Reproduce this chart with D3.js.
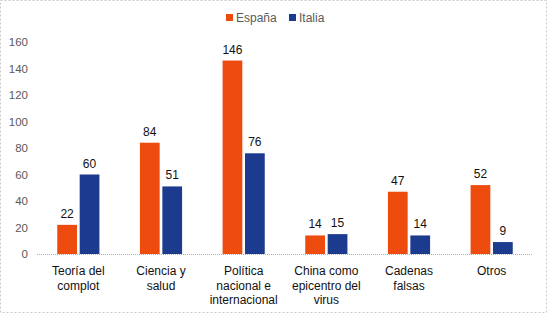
<!DOCTYPE html>
<html>
<head>
<meta charset="utf-8">
<script src="https://cdn.jsdelivr.net/npm/d3@7"></script>
<style>
  body { margin: 0; background: #fff; }
  svg { display: block; font-family: "Liberation Sans", Arial, sans-serif; }
</style>
</head>
<body>
<div id="chart"></div>
<script>
// datos
const categorias = [
  ["Teoría del", "complot"],
  ["Ciencia y", "salud"],
  ["Política", "nacional e", "internacional"],
  ["China como", "epicentro del", "virus"],
  ["Cadenas", "falsas"],
  ["Otros"]
];
const series = ["España", "Italia"];
const espana = [22, 84, 146, 14, 47, 52];
const italia = [60, 51, 76, 15, 14, 9];
const yTicks = [0, 20, 40, 60, 80, 100, 120, 140, 160];
const colores = ["#EE4B0E", "#1C3A8E"];

const W = 547, H = 313;
const margin = { top: 42, right: 14, bottom: 59, left: 37 };
const width = W - margin.left - margin.right;
const height = H - margin.top - margin.bottom;

const svg = d3.select("#chart").append("svg")
  .attr("width", W)
  .attr("height", H);

// borde punteado
svg.append("rect")
  .attr("x", 0.5).attr("y", 0.5)
  .attr("width", W - 1).attr("height", H - 1)
  .attr("fill", "none")
  .attr("stroke", "#c8c8c8")
  .attr("stroke-dasharray", "2,2");

const g = svg.append("g").attr("transform", `translate(${margin.left},${margin.top})`);

const idx = d3.range(categorias.length);
const x = d3.scaleBand().domain(idx).range([0, width]).paddingInner(0.49).paddingOuter(0.245);
const x1 = d3.scaleBand().domain(series).range([0, x.bandwidth()]).paddingInner(0.12);
const y = d3.scaleLinear().domain([0, 160]).range([height, 0]);

// eje y (solo etiquetas)
g.append("g")
  .call(d3.axisLeft(y).tickValues(yTicks).tickSize(0).tickPadding(9))
  .call(a => a.select(".domain").remove())
  .selectAll("text")
  .style("font-size", "11.5px")
  .attr("fill", "#595959")
  .style("font-family", "'Liberation Sans', Arial, sans-serif");

// linea base punteada
g.append("line")
  .attr("x1", 0).attr("x2", width)
  .attr("y1", y(0) + 0.5).attr("y2", y(0) + 0.5)
  .attr("stroke", "#b0b0b0")
  .attr("stroke-dasharray", "1,1");

// barras
const datos = idx.map(i => ({ i, vals: [espana[i], italia[i]] }));
const grupos = g.selectAll(".grupo").data(datos).enter().append("g")
  .attr("transform", d => `translate(${x(d.i)},0)`);

grupos.selectAll("rect")
  .data(d => d.vals.map((v, k) => ({ s: series[k], v, k })))
  .enter().append("rect")
  .attr("x", d => x1(d.s))
  .attr("y", d => y(d.v))
  .attr("width", x1.bandwidth())
  .attr("height", d => y(0) - y(d.v))
  .attr("fill", d => colores[d.k]);

grupos.selectAll("text.val")
  .data(d => d.vals.map((v, k) => ({ s: series[k], v, k })))
  .enter().append("text")
  .attr("class", "val")
  .attr("x", d => x1(d.s) + x1.bandwidth() / 2)
  .attr("y", d => y(d.v) - 7)
  .attr("text-anchor", "middle")
  .style("font-size", "12px")
  .attr("fill", "#111")
  .text(d => d.v);

// etiquetas de categoria
const etiquetas = g.selectAll(".cat").data(idx).enter().append("text")
  .attr("class", "cat")
  .attr("x", i => x(i) + x.bandwidth() / 2)
  .attr("y", height + 21)
  .attr("text-anchor", "middle")
  .style("font-size", "12px")
  .attr("fill", "#111");
etiquetas.each(function (i) {
  const t = d3.select(this);
  categorias[i].forEach((linea, j) => {
    t.append("tspan")
      .attr("x", x(i) + x.bandwidth() / 2)
      .attr("dy", j === 0 ? 0 : 14.5)
      .text(linea);
  });
});

// leyenda
const leyenda = svg.append("g").attr("transform", "translate(226,12)");
const posX = [0, 63];
series.forEach((s, k) => {
  const it = leyenda.append("g").attr("transform", `translate(${posX[k]},0)`);
  it.append("rect").attr("x", 0).attr("y", 2).attr("width", 7).attr("height", 7).attr("fill", colores[k]);
  it.append("text").attr("x", 10).attr("y", 10)
    .style("font-size", "12px").attr("fill", "#595959").text(s);
});
</script>
</body>
</html>
